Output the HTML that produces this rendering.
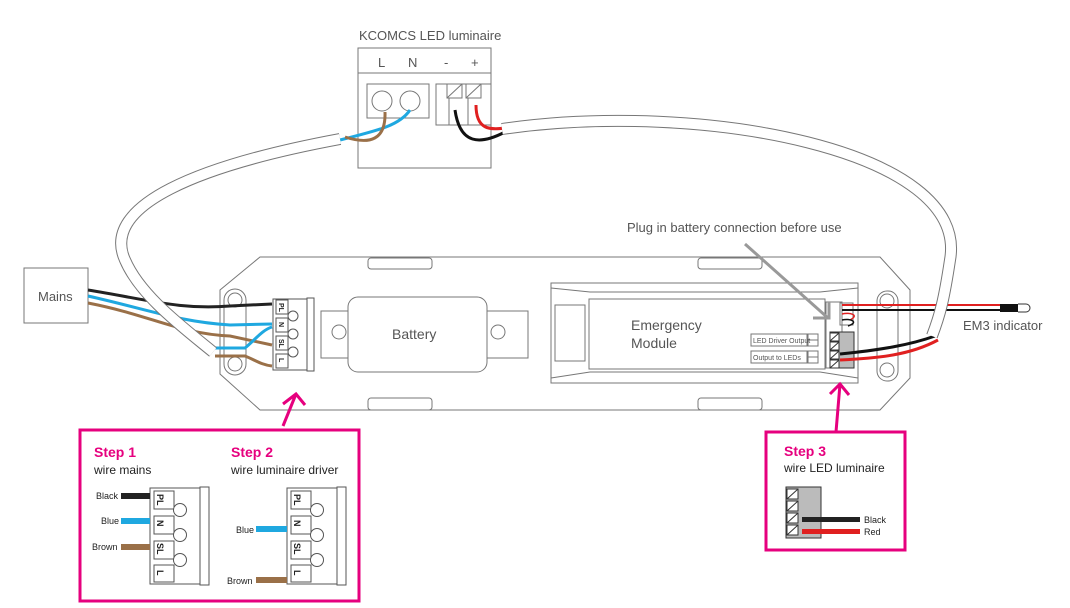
<!DOCTYPE html>
<html><head><meta charset="utf-8"><style>
html,body{margin:0;padding:0;background:#fff}
svg{display:block}
text{font-family:"Liberation Sans","DejaVu Sans",sans-serif;fill:#555}
</style></head><body>
<svg width="1070" height="608" viewBox="0 0 1070 608" xmlns="http://www.w3.org/2000/svg">
<g fill="none" stroke="#777" stroke-width="1">
<!-- luminaire box -->
<rect x="358" y="48" width="133" height="120" fill="#fff"/>
<line x1="358" y1="73" x2="491" y2="73"/>
<rect x="367" y="84" width="62" height="34"/>
<circle cx="382" cy="101" r="10"/><circle cx="410" cy="101" r="10"/>
<rect x="436" y="84" width="55" height="41"/>
<rect x="447" y="84" width="15" height="14"/><rect x="466" y="84" width="15" height="14"/>
<line x1="447" y1="98" x2="462" y2="84"/><line x1="466" y1="98" x2="481" y2="84"/>
<line x1="449" y1="98" x2="449" y2="125"/><line x1="468" y1="98" x2="468" y2="125"/>
<!-- mains -->
<rect x="24" y="268" width="64" height="55"/>
<!-- housing -->
<path d="M260,257 L880,257 L910,290 L910,378 L880,410 L260,410 L220,374 L220,290 Z" fill="#fff"/>
<rect x="368" y="258" width="64" height="11" rx="3"/><rect x="698" y="258" width="64" height="11" rx="3"/>
<rect x="368" y="398" width="64" height="12" rx="3"/><rect x="698" y="398" width="64" height="12" rx="3"/>
<!-- battery -->
<rect x="321" y="311" width="207" height="47" fill="#fff"/>
<circle cx="339" cy="332" r="7"/><circle cx="498" cy="332" r="7"/>
<rect x="348" y="297" width="139" height="75" rx="10" fill="#fff"/>
<!-- emergency module -->
<rect x="551" y="283" width="307" height="100" fill="#fff"/>
<path d="M551,288 L590,292 L820,292 L858,288 M551,378 L590,372 L820,372 L858,378"/>
<rect x="589" y="299" width="236" height="70"/>
<rect x="555" y="305" width="30" height="56"/>
<rect x="751" y="334" width="56" height="12"/><rect x="808" y="334" width="10" height="12"/>
<rect x="751" y="351" width="56" height="12"/><rect x="808" y="351" width="10" height="12"/>
<line x1="808" y1="340" x2="818" y2="340"/><line x1="808" y1="357" x2="818" y2="357"/>
<rect x="826" y="302" width="16" height="66"/>
<rect x="840" y="303" width="13" height="22"/>
<!-- brackets -->
<rect x="224" y="289" width="22" height="86" rx="11" fill="#fff"/>
<circle cx="235" cy="300" r="7"/><circle cx="235" cy="364" r="7"/>
<rect x="877" y="291" width="21" height="90" rx="10" fill="#fff"/>
<circle cx="887" cy="301" r="7"/><circle cx="887" cy="370" r="7"/>
</g>
<rect x="830" y="332" width="24" height="36" fill="#bbb" stroke="#333"/>
<g fill="#fff" stroke="#333" stroke-width="1">
<rect x="830" y="333" width="9" height="8"/><rect x="830" y="342" width="9" height="8"/><rect x="830" y="351" width="9" height="8"/><rect x="830" y="360" width="9" height="8"/>
</g>
<g stroke="#333" stroke-width="1"><line x1="830" y1="341" x2="839" y2="333"/><line x1="830" y1="350" x2="839" y2="342"/><line x1="830" y1="359" x2="839" y2="351"/><line x1="830" y1="368" x2="839" y2="360"/></g>
<!-- wires from mains -->
<g fill="none" stroke-width="3">
<path d="M88,290 C150,300 180,310 230,306 L272,304" stroke="#222"/>
<path d="M88,296 C150,310 180,322 230,325 L272,324" stroke="#1fa8e0"/>
<path d="M88,303 C150,315 180,334 230,336 L272,345" stroke="#9a7048"/>
<path d="M215,348 L245,348 C255,340 262,330 272,327" stroke="#1fa8e0"/>
<path d="M215,356 L245,356 C255,360 262,365 272,366" stroke="#9a7048"/>
<!-- luminaire wires -->
<path d="M340,140 C380,130 400,125 410,110" stroke="#1fa8e0"/>
<path d="M345,137 C370,145 386,140 385,112" stroke="#9a7048"/>
<path d="M455,110 C460,145 480,145 505,132" stroke="#111"/>
<path d="M476,105 C476,130 490,130 505,128" stroke="#e02020"/>
<!-- right wires -->
<path d="M842,305 L1000,305" stroke="#e02020" stroke-width="2"/>
<path d="M842,310 L1000,310" stroke="#111" stroke-width="2"/>
<path d="M842,314 C850,312 860,315 850,320" stroke="#e02020" stroke-width="1.5"/>
<path d="M842,320 C850,318 860,322 848,326" stroke="#111" stroke-width="1.5"/>
<path d="M840,354 C880,350 910,345 935,336" stroke="#111"/>
<path d="M840,360 C880,358 910,355 938,340" stroke="#e02020"/>
</g>
<rect x="1000" y="304" width="18" height="8" fill="#111"/>
<path d="M1018,304 L1026,304 A4,4 0 0 1 1026,312 L1018,312" fill="#fff" stroke="#333"/>
<!-- cables -->
<g fill="none">
<path d="M340,139 C200,165 100,205 125,260 C140,295 180,325 213,352" stroke="#777" stroke-width="12"/>
<path d="M340,139 C200,165 100,205 125,260 C140,295 180,325 213,352" stroke="#fff" stroke-width="10"/>
<path d="M502,129 C700,100 970,150 950,260 C944,300 940,315 932,336" stroke="#777" stroke-width="12"/>
<path d="M502,129 C700,100 970,150 950,260 C944,300 940,315 932,336" stroke="#fff" stroke-width="10"/>
</g>
<!-- terminal block main -->
<g fill="#fff" stroke="#555" stroke-width="1">
<rect x="273" y="299" width="34" height="71"/>
<rect x="307" y="298" width="7" height="73"/>
<path d="M276,300 h12 v14 h-12 z M276,318 h12 v14 h-12 z M276,336 h12 v14 h-12 z M276,354 h12 v14 h-12 z"/>
<circle cx="293" cy="316" r="5"/><circle cx="293" cy="334" r="5"/><circle cx="293" cy="352" r="5"/>
</g>
<g font-size="7" font-weight="bold" fill="#222">
<text x="279" y="303" transform="rotate(90 279 303)" style="fill:#222">PL</text>
<text x="279" y="322" transform="rotate(90 279 322)" style="fill:#222">N</text>
<text x="279" y="339" transform="rotate(90 279 339)" style="fill:#222">SL</text>
<text x="279" y="358" transform="rotate(90 279 358)" style="fill:#222">L</text>
</g>
<!-- grey arrow -->
<path d="M745,244 L828,318" stroke="#999" stroke-width="3" fill="none"/>
<path d="M813,318 L829,318 L829,302" stroke="#999" stroke-width="3" fill="none"/>
<!-- texts -->
<text x="359" y="40" font-size="13">KCOMCS LED luminaire</text>
<text x="378" y="67" font-size="13">L</text><text x="408" y="67" font-size="13">N</text>
<text x="444" y="67" font-size="13">-</text><text x="471" y="67" font-size="13">+</text>
<text x="38" y="301" font-size="13">Mains</text>
<text x="392" y="339" font-size="14">Battery</text>
<text x="631" y="330" font-size="14">Emergency</text>
<text x="631" y="348" font-size="14">Module</text>
<text x="753" y="343" font-size="7">LED Driver Output</text>
<text x="753" y="360" font-size="7">Output to LEDs</text>
<text x="627" y="232" font-size="13">Plug in battery connection before use</text>
<text x="963" y="330" font-size="13">EM3 indicator</text>
<!-- pink -->
<g stroke="#e6007e" stroke-width="3" fill="none">
<rect x="80" y="430" width="279" height="171"/>
<rect x="766" y="432" width="139" height="118"/>
<path d="M283,426 L296,394 M283,404 L296,394 L305,405"/>
<path d="M836,432 L840,384 M830,394 L840,384 L849,395"/>
</g>
<g font-weight="bold" font-size="14"><text x="94" y="457" style="fill:#e6007e">Step 1</text><text x="231" y="457" style="fill:#e6007e">Step 2</text><text x="784" y="456" style="fill:#e6007e">Step 3</text></g>
<g font-size="12"><text x="94" y="474" style="fill:#222">wire mains</text><text x="231" y="474" style="fill:#222">wire luminaire driver</text><text x="784" y="472" style="fill:#222">wire LED luminaire</text></g>
<!-- step blocks -->
<g fill="#fff" stroke="#555">
<rect x="150" y="488" width="50" height="96"/><rect x="200" y="487" width="9" height="98"/>
<path d="M154,491 h20 v18 h-20 z M154,516 h20 v18 h-20 z M154,541 h20 v18 h-20 z M154,565 h20 v17 h-20 z"/>
<circle cx="180" cy="510" r="6.5"/><circle cx="180" cy="535" r="6.5"/><circle cx="180" cy="560" r="6.5"/>
<rect x="287" y="488" width="50" height="96"/><rect x="337" y="487" width="9" height="98"/>
<path d="M291,491 h20 v18 h-20 z M291,516 h20 v18 h-20 z M291,541 h20 v18 h-20 z M291,565 h20 v17 h-20 z"/>
<circle cx="317" cy="510" r="6.5"/><circle cx="317" cy="535" r="6.5"/><circle cx="317" cy="560" r="6.5"/>
</g>
<g font-size="9" font-weight="bold">
<text x="157" y="494" transform="rotate(90 157 494)" style="fill:#222">PL</text>
<text x="157" y="520" transform="rotate(90 157 520)" style="fill:#222">N</text>
<text x="157" y="543" transform="rotate(90 157 543)" style="fill:#222">SL</text>
<text x="157" y="570" transform="rotate(90 157 570)" style="fill:#222">L</text>
<text x="294" y="494" transform="rotate(90 294 494)" style="fill:#222">PL</text>
<text x="294" y="520" transform="rotate(90 294 520)" style="fill:#222">N</text>
<text x="294" y="543" transform="rotate(90 294 543)" style="fill:#222">SL</text>
<text x="294" y="570" transform="rotate(90 294 570)" style="fill:#222">L</text>
</g>
<rect x="121" y="493" width="29" height="6" fill="#222"/>
<rect x="121" y="518" width="29" height="6" fill="#1fa8e0"/>
<rect x="121" y="544" width="29" height="6" fill="#9a7048"/>
<rect x="256" y="526" width="31" height="6" fill="#1fa8e0"/>
<rect x="256" y="577" width="31" height="6" fill="#9a7048"/>
<g font-size="9"><text x="96" y="499" style="fill:#222">Black</text><text x="101" y="524" style="fill:#222">Blue</text><text x="92" y="550" style="fill:#222">Brown</text>
<text x="236" y="533" style="fill:#222">Blue</text><text x="227" y="584" style="fill:#222">Brown</text>
<text x="864" y="523" style="fill:#222">Black</text><text x="864" y="535" style="fill:#222">Red</text></g>
<rect x="786" y="487" width="35" height="51" fill="#bbb" stroke="#333"/>
<g fill="#fff" stroke="#333"><rect x="787" y="489" width="11" height="10"/><rect x="787" y="501" width="11" height="10"/><rect x="787" y="513" width="11" height="10"/><rect x="787" y="525" width="11" height="10"/></g>
<g stroke="#333"><line x1="787" y1="499" x2="798" y2="489"/><line x1="787" y1="511" x2="798" y2="501"/><line x1="787" y1="523" x2="798" y2="513"/><line x1="787" y1="535" x2="798" y2="525"/></g>
<rect x="802" y="517" width="58" height="5" fill="#222"/>
<rect x="802" y="529" width="58" height="5" fill="#e02020"/>
</svg>
</body></html>
